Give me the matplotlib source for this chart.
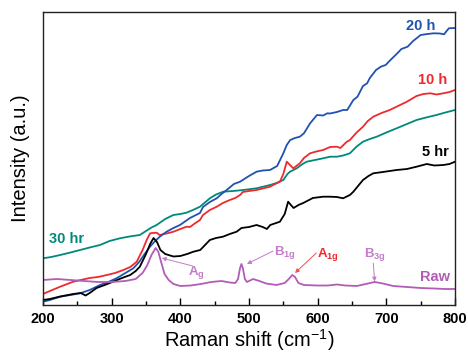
import numpy as np
import matplotlib
matplotlib.use("Agg")
import matplotlib.pyplot as plt
from matplotlib.ticker import MultipleLocator, NullLocator

plt.rcParams['font.family'] = ['Liberation Sans', 'DejaVu Sans']
plt.rcParams['mathtext.fontset'] = 'custom'
plt.rcParams['mathtext.rm'] = 'Liberation Sans'
plt.rcParams['mathtext.it'] = 'Liberation Sans:italic'
plt.rcParams['mathtext.bf'] = 'Liberation Sans:bold'

# Raman spectra (offset intensity, arbitrary units)
raw_x = [200, 220, 240, 260, 280, 300, 320, 335, 345, 352, 358, 364, 368, 372, 377, 383, 390, 400,
         415, 430, 445, 460, 472, 480, 484, 487, 489, 491, 494, 497, 506, 515, 525, 540, 552, 558,
         563, 567, 572, 580, 600, 615, 628, 640, 657, 670, 683, 695, 710, 730, 750, 770, 785, 800]
raw_py = [280, 279, 280, 281, 282, 282, 281, 279, 273, 265, 255, 248, 252, 262, 274, 280, 284, 286,
          285.5, 284, 282, 281, 282.5, 283, 279, 268, 264, 268, 279, 282, 279, 281, 283.5, 285, 283, 279,
          275, 277, 283, 285, 285.5, 285.5, 284.5, 285.5, 286, 284, 282, 283.5, 286, 287, 288, 288.5, 289, 289]

h5_x = [200, 210, 225, 244, 255, 262, 268, 278, 290, 302, 315, 327, 335, 341, 350, 356, 361, 366, 371,
        378, 390, 400, 410, 419, 429, 443, 452, 462, 472, 482, 489, 500, 511, 520, 526, 531, 545, 552,
        557, 561, 565, 572, 579, 593, 608, 618, 628, 637, 647, 652, 660, 666, 674, 681, 695, 715, 730,
        744, 759, 770, 783, 792, 800]
h5_py = [300, 299, 296.5, 294, 293, 295.5, 293, 288, 285, 281.7, 278, 275, 271, 266.7, 254, 244, 238, 242, 250,
         254, 256.5, 256, 254, 251.7, 250, 240, 238, 236.7, 234, 231.7, 228, 227, 225, 227, 229, 225, 221.7, 214,
         201.7, 205, 208, 205, 203, 198, 196.7, 196.7, 197, 198.3, 195, 191.7, 185, 180, 176, 173.3, 172, 170, 169,
         166.7, 164, 165.5, 165, 164, 161.7]

h10_x = [200, 210, 225, 244, 255, 268, 280, 293, 305, 317, 327, 336.5, 345, 351, 356, 360, 365.5, 370, 380,
         390, 400, 409, 414, 420, 428.6, 433, 443, 453, 462, 472, 480, 487, 491, 500, 511, 520, 530.6, 538,
         545, 550, 555, 559.7, 564.5, 569, 574, 580, 589, 598, 608, 618, 628, 633, 642, 647, 656, 666, 673,
         681, 693, 705, 717, 730, 744, 754, 764, 773, 783, 792, 800]
h10_py = [294, 291, 286.7, 281.7, 280, 278, 277, 275, 273, 270, 267, 261.7, 250, 240, 233.3, 233, 232.7, 235, 233.5,
          231.7, 229, 226.7, 227, 224, 220, 215, 210, 206.7, 203, 200, 198, 195, 192, 191, 190, 188.5, 186.7, 184,
          181.7, 174, 161.7, 165, 168.3, 166, 163.3, 158, 153.3, 151.5, 150, 147, 146.7, 148, 142, 140, 133, 126.7, 121,
          116.7, 113, 110, 106, 101.7, 96, 94, 93.3, 94.5, 93.3, 92, 90]

h20_x = [200, 210, 225, 240, 254, 268, 283, 295, 307, 320, 331.5, 340, 348, 355.8, 362, 370, 380, 390, 399.5,
         414, 428.6, 433, 443, 453, 460, 467.5, 478, 487, 500, 511, 520, 530.6, 541, 550, 555, 560, 567, 574,
         580, 589, 599, 608, 614, 618, 628, 637, 643, 652, 658, 666, 672, 676, 685, 692, 699, 706, 716, 722,
         731, 739, 750, 760, 769, 778, 784, 791, 800]
h20_py = [301.7, 300, 296.7, 295, 293.3, 290, 285, 282, 278.3, 273, 268.3, 262, 254, 246.7, 242, 236.7, 231.7, 228, 225,
          218, 213, 207, 202, 198.3, 194, 190, 184, 181.7, 176, 171.7, 170.5, 170, 166, 153.3, 145, 140, 138, 136.7,
          133.3, 123.3, 115, 115.5, 113.3, 113.5, 112, 110, 110, 100, 96.7, 86, 83.3, 78, 70, 66.7, 65, 60, 53.3, 49,
          46.7, 41, 35, 34, 33.3, 33.5, 34.3, 28.3, 28]

h30_x = [200, 212, 225, 240, 254, 268, 283, 297, 312, 326, 341, 350, 358, 365.5, 378, 389.8, 400, 409, 420,
         428.6, 443, 452, 462.6, 477, 491.7, 511, 530.6, 540, 550, 556, 559.7, 569.5, 578, 584, 596, 608, 618,
         628, 637, 647, 656, 666, 676, 686, 700, 715, 730, 744, 758, 773, 786, 800]
h30_py = [258.3, 257, 255, 252.5, 250, 247.5, 245, 241, 238.3, 236.5, 235, 231, 227.5, 225, 219, 215, 214, 212.7, 209.5,
          206.7, 198.3, 194.5, 191.7, 191, 190, 188.3, 185, 183, 180, 174, 171.7, 168.3, 164, 161.7, 160, 158.3, 156.7,
          156.7, 155.5, 153.3, 147, 141.7, 139, 136.7, 132.5, 128.3, 124, 120, 117.5, 115, 112.5, 110]

BASE = 305.0


def to_int(vals):
    return BASE - np.asarray(vals, dtype=float)


series = [
    (h30_x, h30_py, '#00897b'),
    (h10_x, h10_py, '#ee2a2f'),
    (h20_x, h20_py, '#2152b0'),
    (h5_x, h5_py, '#000000'),
    (raw_x, raw_py, '#b25cb8'),
]

fig = plt.figure(figsize=(4.68, 3.56), dpi=100)
ax = fig.add_axes([43 / 468, 51 / 356, 412 / 468, 293 / 356])

for xs, ys, c in series:
    ax.plot(xs, to_int(ys), color=c, lw=1.3, solid_joinstyle='round')

ax.set_xlim(200, 800)
ax.set_ylim(0, 293)
ax.xaxis.set_major_locator(MultipleLocator(100))
ax.xaxis.set_minor_locator(MultipleLocator(50))
ax.yaxis.set_major_locator(NullLocator())
ax.tick_params(axis='x', which='major', direction='in', length=5, width=1, labelsize=10.5, pad=5)
ax.tick_params(axis='x', which='minor', direction='in', length=3, width=1)
for lab in ax.get_xticklabels():
    lab.set_fontweight('bold')
for sp in ax.spines.values():
    sp.set_linewidth(1.0)
    sp.set_color('#222222')

ax.set_xlabel('Raman shift (cm$^{-1}$)', fontsize=14.5, labelpad=1)
ax.set_ylabel('Intensity (a.u.)', fontsize=14.5, labelpad=9)

# sample labels
ax.text(750, BASE - 26, '20 h', color='#2152b0', fontsize=10.5, fontweight='bold', ha='center', va='center')
ax.text(768, BASE - 80, '10 h', color='#ee2a2f', fontsize=10.5, fontweight='bold', ha='center', va='center')
ax.text(771, BASE - 152, '5 hr', color='#000000', fontsize=10.5, fontweight='bold', ha='center', va='center')
ax.text(234, BASE - 239, '30 hr', color='#00897b', fontsize=10.5, fontweight='bold', ha='center', va='center')
ax.text(771, BASE - 277, 'Raw', color='#b25cb8', fontsize=10.5, fontweight='bold', ha='center', va='center')

# Raman mode assignments
pc = '#c47cc8'
arrow_p = dict(arrowstyle='-|>', color=pc, lw=0.7, mutation_scale=6, shrinkA=0, shrinkB=0)
arrow_r = dict(arrowstyle='-|>', color='#f0514f', lw=0.7, mutation_scale=6, shrinkA=0, shrinkB=0)

ax.annotate('', xy=(373, BASE - 258), xytext=(418, BASE - 266), arrowprops=arrow_p)
ax.text(423, BASE - 272, r'$\mathbf{A_g}$', color=pc, fontsize=9.5, ha='center', va='center')

ax.annotate('', xy=(497, BASE - 264), xytext=(535, BASE - 251), arrowprops=arrow_p)
ax.text(553, BASE - 252, r'$\mathbf{B_{1g}}$', color=pc, fontsize=9.5, ha='center', va='center')

ax.annotate('', xy=(567, BASE - 273), xytext=(598, BASE - 253), arrowprops=arrow_r)
ax.text(615, BASE - 254, r'$\mathbf{A_{1g}}$', color='#ee2a2f', fontsize=9.5, ha='center', va='center')

ax.annotate('', xy=(683, BASE - 281.5), xytext=(681, BASE - 263), arrowprops=arrow_p)
ax.text(684, BASE - 254, r'$\mathbf{B_{3g}}$', color=pc, fontsize=9.5, ha='center', va='center')

fig.savefig('out.png', dpi=100)
